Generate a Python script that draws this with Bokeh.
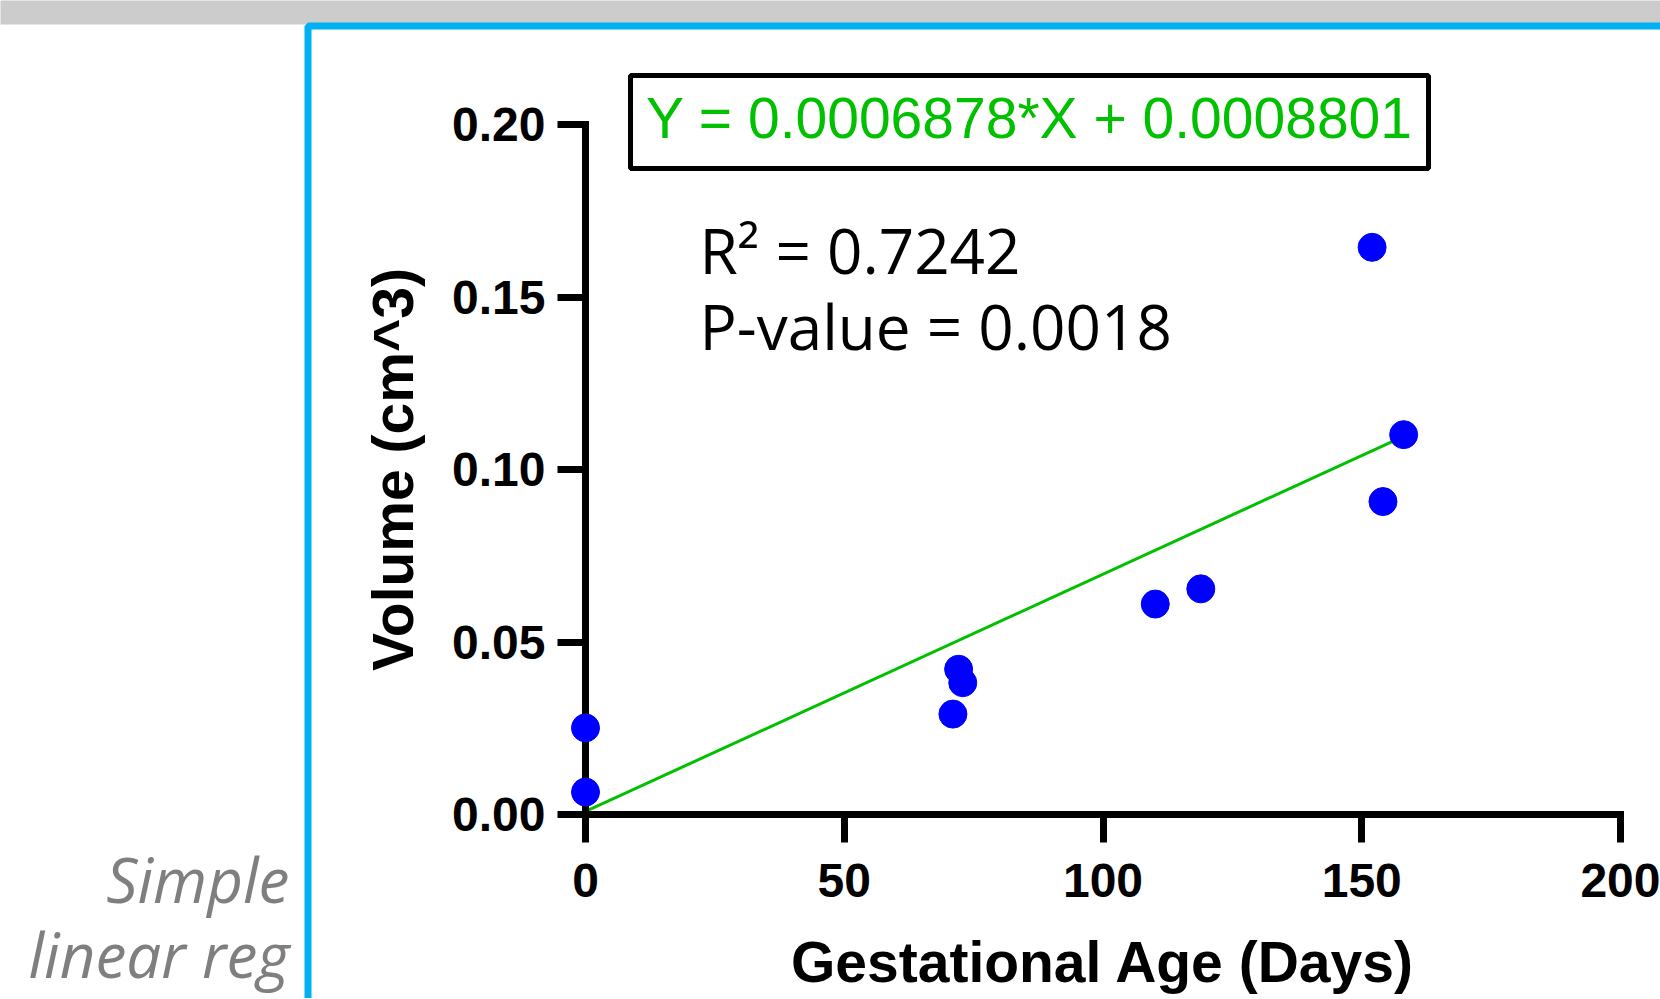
from bokeh.plotting import figure
from bokeh.models import Range1d, FixedTicker, PrintfTickFormatter
from bokeh.core.properties import value
from bokeh.embed import file_html
from bokeh.resources import INLINE

# ---- data ----
gest_age = [0, 0, 71.0, 72.1, 72.9, 110.1, 118.9, 152.0, 154.1, 158.1]
volume = [0.0251, 0.0065, 0.0291, 0.0421, 0.0382, 0.0610, 0.0654, 0.1644, 0.0907, 0.1101]
slope = 0.0006878
intercept = 0.0008801
r_squared = "0.7242"
p_value = "0.0018"
x_ticks = [0, 50, 100, 150, 200]
y_ticks = [0.0, 0.05, 0.10, 0.15, 0.20]
x_label = "Gestational Age (Days)"
y_label = "Volume (cm^3)"
side_caption = ["Simple", "linear reg"]

line_x = [min(gest_age), max(gest_age)]
line_y = [slope * v + intercept for v in line_x]

# ---- layout geometry (canvas pixels) ----
W, H = 1660, 998
FL, FR, FT, FB = 585, 1620, 124, 814

p = figure(width=W, height=H, output_backend="svg", toolbar_location=None,
           x_range=Range1d(0, 200), y_range=Range1d(0, 0.2),
           min_border_left=FL, min_border_right=W - FR,
           min_border_top=FT, min_border_bottom=H - FB,
           outline_line_color=None, background_fill_color="white",
           border_fill_color="white")
# pixel-space ranges for page decorations (value == canvas pixel)
p.extra_x_ranges = {"px": Range1d(FL, FR)}
p.extra_y_ranges = {"px": Range1d(FB, FT)}
p.grid.visible = False

tick_font = "Liberation Sans"
for ax in (p.xaxis[0], p.yaxis[0]):
    ax.axis_line_width = 7
    ax.axis_line_color = "black"
    ax.axis_line_cap = "square"
    ax.major_tick_line_width = 7
    ax.major_tick_line_color = "black"
    ax.major_tick_out = 28
    ax.major_tick_in = 0
    ax.minor_tick_line_color = None
    ax.major_label_text_font = tick_font
    ax.major_label_text_font_style = "bold"
    ax.major_label_text_font_size = "48px"
    ax.major_label_text_color = "black"
    ax.axis_label_text_font = tick_font
    ax.axis_label_text_font_style = "bold"
    ax.axis_label_text_font_size = "57px"
    ax.axis_label_text_color = "black"

p.xaxis.ticker = FixedTicker(ticks=x_ticks)
p.yaxis.ticker = FixedTicker(ticks=y_ticks)
p.yaxis.formatter = PrintfTickFormatter(format="%.2f")
p.xaxis.axis_label = x_label
p.yaxis.axis_label = y_label
p.xaxis.major_label_standoff = 21
p.yaxis.major_label_standoff = 12
p.xaxis.axis_label_standoff = 30
p.yaxis.axis_label_standoff = 24

px = dict(x_range_name="px", y_range_name="px", level="overlay")

# page decorations
p.quad(left=[0], right=[W], top=[0], bottom=[24], fill_color="#cccccc",
       line_color=None, **px)
p.quad(left=[307.5], right=[W + 60], top=[25.5], bottom=[H + 60],
       fill_alpha=0, line_color="#00b0f0", line_width=7, **px)

# regression line and points
p.line(line_x, line_y, line_color="#00c000", line_width=3)
p.scatter(gest_age, volume, size=28, fill_color="#0000ff", line_color="#0000ff",
          level="overlay")

# equation box and statistics
p.quad(left=[630], right=[1428], top=[75], bottom=[168], fill_alpha=0,
       line_color="black", line_width=5, **px)
p.text(x=[1029], y=[117], text=[f"Y = {slope:.7f}*X + {intercept:.7f}"],
       text_font=value("Liberation Sans"), text_font_size="57px",
       text_color="#00c000", text_align="center", text_baseline="alphabetic", **px)

stat_font = value("Open Sans")
p.text(x=[699, 699], y=[249, 325],
       text=[f"R\u00b2 = {r_squared}", f"P-value = {p_value}"],
       text_font=stat_font, text_font_size="62px", text_color="black",
       text_align="left", text_baseline="alphabetic", **px)

p.text(x=[289, 289], y=[878, 953], text=side_caption,
       text_font=stat_font, text_font_style="italic", text_font_size="62px",
       text_color="#7f7f7f", text_align="right", text_baseline="alphabetic", **px)

open("out.html", "w").write(file_html(p, INLINE))
